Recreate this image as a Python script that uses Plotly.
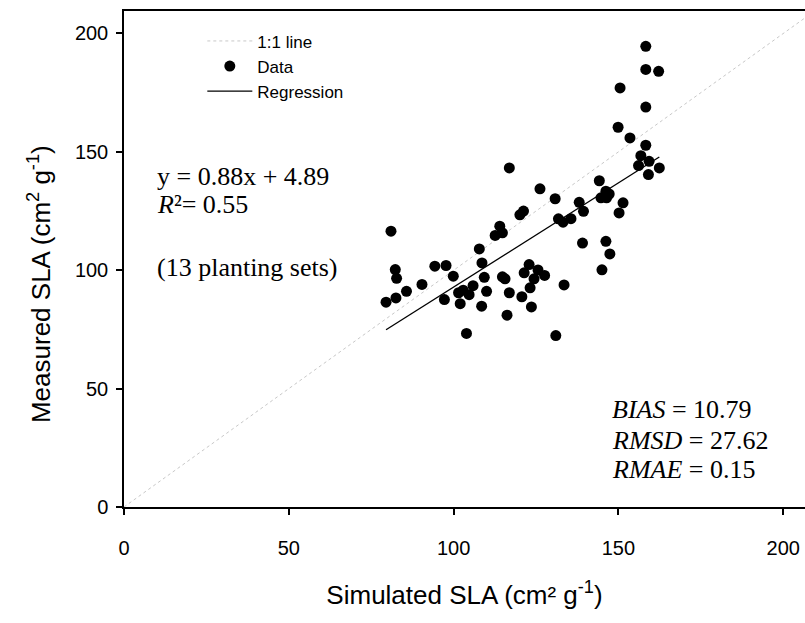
import plotly.graph_objects as go

# Simulated (x) and measured (y) SLA values, cm2 g-1
simulated = [81.0, 82.3, 82.7, 79.5, 82.5, 85.7, 90.4, 94.3, 97.7, 99.9,
             97.2, 101.5, 102.9, 104.7, 105.9, 102.0, 103.9, 107.8, 108.6, 109.3,
             110.0, 108.5, 112.6, 114.0, 114.8, 114.8, 115.6, 116.9, 116.2, 116.9,
             120.1, 121.2, 120.7, 121.4, 122.9, 123.2, 123.6, 124.4, 125.6, 127.6,
             126.2, 130.8, 131.0, 131.8, 133.2, 135.6, 133.5, 138.1, 139.4, 139.1,
             144.2, 146.2, 144.7, 146.4, 147.2, 146.2, 147.4, 145.0, 151.4, 150.2,
             149.9, 150.5, 153.5, 158.3, 158.3, 162.2, 158.3, 158.3, 156.8, 159.3,
             156.1, 162.4, 159.1]
measured = [116.5, 100.3, 96.6, 86.5, 88.3, 91.1, 94.0, 101.7, 102.0, 97.5,
            87.6, 90.5, 91.6, 89.7, 93.5, 85.9, 73.3, 109.0, 103.1, 97.0,
            91.1, 84.8, 114.7, 118.6, 115.8, 97.2, 96.4, 90.5, 81.0, 143.2,
            123.4, 125.0, 88.8, 98.9, 102.4, 92.6, 84.5, 96.4, 100.1, 97.8,
            134.4, 130.2, 72.4, 121.7, 120.3, 121.8, 93.8, 128.7, 124.9, 111.5,
            137.8, 133.4, 130.6, 130.6, 132.2, 112.2, 106.9, 100.2, 128.5, 124.2,
            160.4, 177.0, 155.9, 194.6, 184.8, 184.0, 168.9, 152.8, 148.4, 146.0,
            144.2, 143.2, 140.4]

slope = 0.88
intercept = 4.89
one_to_one = [0, 210]
tick_vals = [0, 50, 100, 150, 200]

reg_x = [min(simulated), max(simulated)]
reg_y = [slope * v + intercept for v in reg_x]

fig = go.Figure()
fig.add_trace(go.Scatter(x=one_to_one, y=one_to_one, mode="lines", name="1:1 line",
                         line=dict(color="#c8c8c8", width=1, dash="dot")))
fig.add_trace(go.Scatter(x=simulated, y=measured, mode="markers", name="Data",
                         marker=dict(color="black", size=11)))
fig.add_trace(go.Scatter(x=reg_x, y=reg_y, mode="lines", name="Regression",
                         line=dict(color="black", width=1.3)))

serif = "Liberation Serif, Times New Roman, serif"
sans = "Liberation Sans, Arial, sans-serif"

ann = []
left_texts = [("y = 0.88x + 4.89", 0.666), ("<i>R</i>²= 0.55", 0.609), ("(13 planting sets)", 0.482)]
for t, yy in left_texts:
    ann.append(dict(text=t, x=0.045, y=yy, xref="paper", yref="paper", xanchor="left",
                    yanchor="middle", showarrow=False, font=dict(family=serif, size=26, color="black")))
right_texts = [("<i>BIAS</i> = 10.79", 0.196), ("<i>RMSD</i> = 27.62", 0.135), ("<i>RMAE</i> = 0.15", 0.075)]
for t, yy in right_texts:
    ann.append(dict(text=t, x=0.713, y=yy, xref="paper", yref="paper", xanchor="left",
                    yanchor="middle", showarrow=False, font=dict(family=serif, size=26, color="black")))
# y-axis title
ann.append(dict(text="Measured SLA (cm<sup>2</sup> g<sup>-1</sup>)", x=-0.123, y=0.45,
                xref="paper", yref="paper", xanchor="center", yanchor="middle",
                textangle=-90, showarrow=False, font=dict(family=sans, size=26, color="black")))

fig.update_layout(
    width=805, height=623,
    margin=dict(l=124, r=0, t=11, b=116),
    paper_bgcolor="white", plot_bgcolor="white",
    showlegend=True,
    legend=dict(x=0.115, y=0.975, xanchor="left", yanchor="top", bgcolor="rgba(0,0,0,0)",
                font=dict(family=sans, size=17, color="black"), tracegroupgap=0,
                itemwidth=45),
    annotations=ann,
    font=dict(family=sans, color="black"),
)
fig.update_xaxes(range=[0, 206.6], tickvals=tick_vals, showgrid=False, zeroline=False,
                 showline=True, linecolor="black", linewidth=1.5, mirror=True,
                 ticks="outside", ticklen=6, tickwidth=1.5, tickcolor="black",
                 tickfont=dict(family=sans, size=20, color="black"), ticklabelstandoff=16,
                 title=dict(text="Simulated SLA (cm² g<sup>-1</sup>)", standoff=28,
                            font=dict(family=sans, size=26, color="black")))
fig.update_yaxes(range=[0, 209.5], tickvals=tick_vals, showgrid=False, zeroline=False,
                 showline=True, linecolor="black", linewidth=1.5, mirror=False,
                 ticks="outside", ticklen=6, tickwidth=1.5, tickcolor="black",
                 tickfont=dict(family=sans, size=20, color="black"), ticklabelstandoff=4)

fig.write_html("out.html")
